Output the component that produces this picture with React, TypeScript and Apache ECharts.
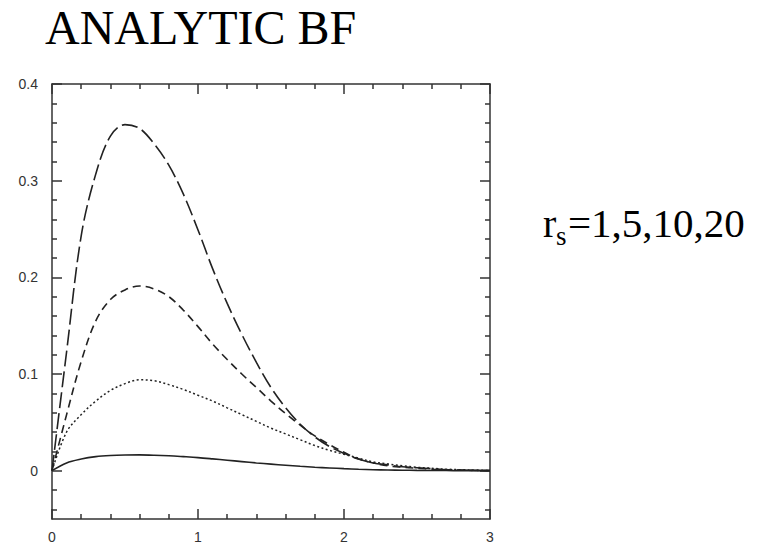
import React, { useEffect, useRef } from "react";
import * as echarts from "echarts";

// x positions
const xs = [0, 0.1, 0.2, 0.3, 0.4, 0.5, 0.6, 0.7, 0.8, 0.9, 1.0, 1.1, 1.2, 1.3, 1.4, 1.5, 1.6, 1.7, 1.8, 1.9, 2.0, 2.1, 2.2, 2.3, 2.4, 2.5, 2.6, 2.7, 2.8, 2.9, 3.0];
// rs = 1 (solid)
const rs1 = [0, 0.008, 0.012, 0.0145, 0.0157, 0.0162, 0.0163, 0.016, 0.0154, 0.0145, 0.0135, 0.0122, 0.0108, 0.0094, 0.008, 0.0068, 0.0056, 0.0045, 0.0036, 0.0028, 0.0021, 0.0015, 0.001, 0.0007, 0.0005, 0.0003, 0.0002, 0.0001, 0.00005, 0.00002, 0];
// rs = 5 (dotted)
const rs5 = [0, 0.04, 0.058, 0.072, 0.083, 0.09, 0.094, 0.093, 0.089, 0.084, 0.078, 0.072, 0.065, 0.058, 0.051, 0.044, 0.038, 0.032, 0.026, 0.021, 0.017, 0.013, 0.009, 0.007, 0.005, 0.0035, 0.0025, 0.0015, 0.001, 0.0005, 0.0002];
// rs = 10 (short dash)
const rs10 = [0, 0.058, 0.113, 0.155, 0.177, 0.187, 0.191, 0.188, 0.18, 0.166, 0.149, 0.131, 0.115, 0.1, 0.086, 0.072, 0.059, 0.047, 0.036, 0.027, 0.019, 0.012, 0.008, 0.005, 0.0035, 0.0025, 0.0015, 0.001, 0.0005, 0.0003, 0.0001];
// rs = 20 (long dash)
const rs20 = [0, 0.123, 0.243, 0.307, 0.346, 0.358, 0.354, 0.338, 0.316, 0.286, 0.249, 0.209, 0.173, 0.141, 0.112, 0.086, 0.065, 0.048, 0.035, 0.025, 0.018, 0.012, 0.008, 0.006, 0.004, 0.003, 0.002, 0.001, 0.0006, 0.0003, 0.0001];

const yMajor = [0, 0.1, 0.2, 0.3, 0.4];
const yMinor = [-0.04, -0.02, 0.02, 0.04, 0.06, 0.08, 0.12, 0.14, 0.16, 0.18, 0.22, 0.24, 0.26, 0.28, 0.32, 0.34, 0.36, 0.38];
const yLabels: Record<string, string> = { "0": "0", "0.1": "0.1", "0.2": "0.2", "0.3": "0.3", "0.4": "0.4" };

const TITLE = "ANALYTIC BF";
const NOTE_MAIN = "r";
const NOTE_SUB = "s";
const NOTE_REST = "=1,5,10,20";

const AX = "#333";

export default function App() {
  const ref = useRef<HTMLDivElement>(null);
  useEffect(() => {
    if (!ref.current) return;
    const chart = echarts.init(ref.current, null, { renderer: "svg" });
    const mk = (arr: number[]) => xs.map((x, i) => [x, arr[i]]);
    const lineBase = { color: "#222", width: 1.6 };
    const yCommon = {
      type: "value",
      min: -0.05,
      max: 0.4,
      splitLine: { show: false },
    };
    const yAxes = [
      {
        ...yCommon,
        position: "left",
        axisLine: { show: true, lineStyle: { color: AX, width: 1.5 } },
        axisTick: { show: true, inside: true, length: 10, customValues: yMajor, lineStyle: { color: AX, width: 1.5 } },
        axisLabel: {
          show: true,
          customValues: yMajor,
          margin: 14,
          color: "#333",
          fontFamily: "Liberation Sans",
          fontSize: 14,
          formatter: (v: number) => yLabels[String(Math.round(v * 10) / 10)] ?? String(v),
        },
      },
      {
        ...yCommon,
        position: "left",
        axisLine: { show: false },
        axisTick: { show: true, inside: true, length: 5, customValues: yMinor, lineStyle: { color: AX, width: 1.5 } },
        axisLabel: { show: false },
      },
      {
        ...yCommon,
        position: "right",
        axisLine: { show: true, lineStyle: { color: AX, width: 1.5 } },
        axisTick: { show: true, inside: true, length: 10, customValues: yMajor, lineStyle: { color: AX, width: 1.5 } },
        axisLabel: { show: false },
      },
      {
        ...yCommon,
        position: "right",
        axisLine: { show: false },
        axisTick: { show: true, inside: true, length: 5, customValues: yMinor, lineStyle: { color: AX, width: 1.5 } },
        axisLabel: { show: false },
      },
    ];
    const xCommon = {
      type: "value",
      min: 0,
      max: 3,
      interval: 1,
      splitLine: { show: false },
      minorSplitLine: { show: false },
      axisLine: { show: true, onZero: false, lineStyle: { color: AX, width: 1.5 } },
      axisTick: { show: true, inside: true, length: 10, lineStyle: { color: AX, width: 1.5 } },
      minorTick: { show: true, splitNumber: 5, length: 5, lineStyle: { color: AX, width: 1.5 } },
    };
    const lineSeries = (name: string, arr: number[], type: any, width = 1.6) => ({
      type: "line",
      name,
      data: mk(arr),
      showSymbol: false,
      smooth: 0.35,
      lineStyle: { ...lineBase, width, type },
    });
    chart.setOption({
      animation: false,
      backgroundColor: "#fff",
      grid: { left: 52, top: 84, right: 273, bottom: 28, containLabel: false },
      xAxis: [
        {
          ...xCommon,
          position: "bottom",
          axisLabel: { show: true, margin: 11, color: "#333", fontFamily: "Liberation Sans", fontSize: 14 },
        },
        { ...xCommon, position: "top", axisLabel: { show: false } },
      ],
      yAxis: yAxes,
      series: [
        lineSeries("rs=1", rs1, "solid"),
        lineSeries("rs=5", rs5, [2, 2.5], 1.5),
        lineSeries("rs=10", rs10, [8, 5]),
        lineSeries("rs=20", rs20, [16, 5]),
      ],
      graphic: [
        {
          type: "text", left: 45, top: 3,
          style: { text: TITLE, fontFamily: "Liberation Serif", fontSize: 48, fill: "#000" },
        },
        {
          type: "text", x: 543, y: 223,
          style: { text: NOTE_MAIN, fontFamily: "Liberation Serif", fontSize: 40, fill: "#000", verticalAlign: "middle" },
        },
        {
          type: "text", x: 556, y: 236,
          style: { text: NOTE_SUB, fontFamily: "Liberation Serif", fontSize: 27, fill: "#000", verticalAlign: "middle" },
        },
        {
          type: "text", x: 568, y: 223,
          style: { text: NOTE_REST, fontFamily: "Liberation Serif", fontSize: 41, fill: "#000", verticalAlign: "middle" },
        },
      ],
    });
    return () => chart.dispose();
  }, []);
  return <div ref={ref} style={{ position: "fixed", left: 0, top: 0, width: 763, height: 547 }} />;
}
